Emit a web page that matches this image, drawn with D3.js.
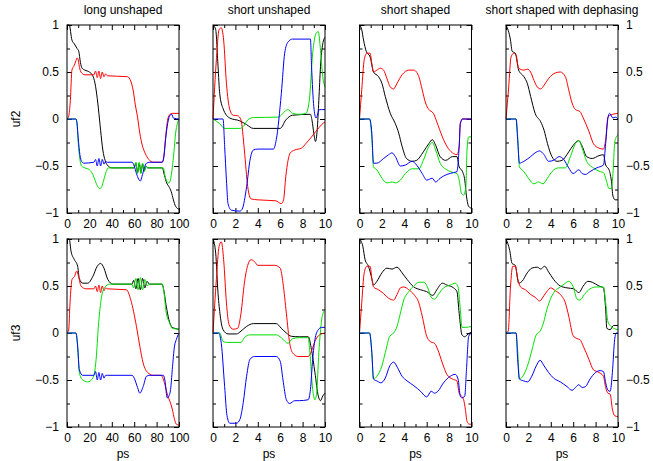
<!DOCTYPE html>
<html>
<head>
<meta charset="utf-8">
<script src="https://cdn.jsdelivr.net/npm/d3@7"></script>
<style>
  body { margin: 0; background: #fff; }
  svg text { font-family: "Liberation Sans", Arial, Helvetica, sans-serif; font-size: 12px; fill: #000; }
</style>
</head>
<body>
<script>

// panel titles, row labels, ticks
var titles = ["long unshaped", "short unshaped", "short shaped", "short shaped with dephasing"];
var rowLabels = ["uf2", "uf3"];
var yMajor = [-1, -0.5, 0, 0.5, 1];
var yMinor = [-0.75, -0.25, 0.25, 0.75];
var xMajorLong = [0, 20, 40, 60, 80, 100];
var xMinorLong = [10, 30, 50, 70, 90];
var xMajorShort = [0, 2, 4, 6, 8, 10];
var xMinorShort = [1, 3, 5, 7, 9];
var xLabel = "ps";
var colors = ["#000000", "#ff0000", "#00e000", "#0000ff"];

// ---- uf2, long unshaped
var lu2_black = [[0,1],[2,1],[4.4,0.84],[6.5,0.8],[9,0.75],[10.5,0.72],[12,0.6],[13.5,0.54],[16,0.52],[20,0.5],[23,0.46],[25,0.38],[27,0.22],[29,0.0],[30,-0.12],[32,-0.33],[34,-0.44],[36,-0.49],[40,-0.52],[60,-0.52],[61.5,-0.47],[63,-0.57],[64.5,-0.47],[66,-0.57],[67.5,-0.48],[69,-0.55],[70.5,-0.5],[72,-0.52],[85,-0.52],[87,-0.6],[89,-0.68],[91,-0.72],[93,-0.77],[95,-0.86],[97,-0.93],[100,-0.96]];
var lu2_red = [[0,0],[1.5,0.03],[3,0.2],[4.4,0.52],[6.5,0.57],[8,0.62],[9,0.65],[10,0.63],[11,0.56],[12,0.51],[14,0.48],[16,0.47],[24,0.47],[25.5,0.51],[27,0.44],[28.5,0.51],[30,0.43],[31.5,0.5],[33,0.45],[34.5,0.48],[36,0.46],[54,0.45],[57,0.4],[59,0.31],[61,0.15],[63,0.02],[65,-0.15],[67,-0.27],[70,-0.37],[73,-0.43],[77,-0.46],[85,-0.46],[86.5,-0.4],[88,-0.2],[90,0.0],[92,0.05],[94,0.06],[100,0.06]];
var lu2_green = [[0,0],[8,0],[9,-0.06],[10,-0.25],[11.5,-0.43],[13,-0.5],[16,-0.52],[20,-0.54],[23,-0.59],[25,-0.65],[27,-0.71],[29.5,-0.74],[31,-0.72],[33,-0.64],[35,-0.56],[37,-0.52],[60,-0.52],[61.5,-0.46],[63,-0.58],[64.5,-0.46],[66,-0.58],[67.5,-0.47],[69,-0.56],[70.5,-0.5],[72,-0.52],[86,-0.52],[87.5,-0.6],[89,-0.66],[91,-0.68],[92.5,-0.64],[94,-0.52],[95.5,-0.35],[97,-0.15],[98.5,-0.05],[100,0]];
var lu2_blue = [[0,0],[8,0],[9,-0.05],[10,-0.2],[11.5,-0.38],[13,-0.45],[15,-0.47],[24,-0.46],[25.5,-0.43],[27,-0.5],[28.5,-0.42],[30,-0.5],[31.5,-0.43],[33,-0.48],[34.5,-0.45],[36,-0.46],[58,-0.46],[60,-0.5],[62,-0.58],[64,-0.64],[65.5,-0.66],[67,-0.61],[69,-0.52],[71,-0.47],[74,-0.46],[85,-0.46],[86.5,-0.4],[88,-0.22],[90,-0.04],[92,0.04],[93.5,0.05],[95,0.01],[100,0]];

// ---- uf2, short unshaped
var su2_black = [[0,1],[0.24,0.95],[0.45,0.56],[0.6,0.27],[0.9,0.11],[1.5,0.01],[2.4,-0.02],[3,-0.06],[3.6,-0.1],[6,-0.1],[6.5,-0.01],[7.1,0.04],[8.7,0.05],[8.85,-0.02],[9.0,-0.15],[9.15,-0.24],[9.3,-0.12],[9.45,0.2],[9.6,0.56],[9.8,0.8],[10,0.87]];
var su2_red = [[0,0],[0.3,0.63],[0.54,0.95],[0.74,0.97],[0.95,0.84],[1.2,0.38],[1.5,0.1],[1.8,0.04],[2.2,0.035],[2.5,-0.01],[2.8,-0.33],[3.1,-0.72],[3.4,-0.85],[4,-0.86],[5.6,-0.87],[6.1,-0.9],[6.3,-0.86],[6.5,-0.61],[6.9,-0.36],[7.3,-0.33],[7.9,-0.31],[8.3,-0.26],[8.8,-0.19],[9.2,-0.13],[9.7,-0.06],[10,-0.03]];
var su2_green = [[0,0],[0.6,-0.05],[1.04,-0.1],[2.4,-0.1],[2.7,-0.08],[3.1,-0.01],[3.6,0.015],[5.8,0.02],[6,0.03],[6.4,0.08],[6.7,0.1],[7.1,0.06],[7.7,0.05],[8.3,0.06],[8.6,0.2],[8.9,0.7],[9.2,0.91],[9.4,0.93],[9.6,0.73],[9.8,0.45],[10,0.34]];
var su2_blue = [[0,0],[0.9,0],[1.04,-0.29],[1.2,-0.65],[1.34,-0.9],[1.64,-0.97],[2.4,-0.98],[2.6,-0.96],[3,-0.72],[3.3,-0.44],[3.6,-0.33],[4,-0.32],[5.4,-0.32],[5.65,-0.22],[6.1,0.27],[6.4,0.7],[6.7,0.82],[7.1,0.85],[8.7,0.85],[8.8,0.56],[9,0.13],[9.2,0.01],[9.5,0.1],[9.7,0.1],[10,0.1]];

// ---- uf2, short shaped
var ss2_black = [[0,1],[0.2,0.95],[0.36,0.84],[0.6,0.72],[0.95,0.66],[1.25,0.5],[1.7,0.45],[2,0.38],[2.3,0.24],[2.75,0.06],[3.2,-0.05],[3.5,-0.15],[3.8,-0.29],[4.2,-0.42],[4.7,-0.45],[5.1,-0.44],[5.7,-0.35],[6.2,-0.26],[6.5,-0.22],[6.8,-0.28],[7.2,-0.4],[7.7,-0.44],[8.3,-0.4],[8.7,-0.4],[8.9,-0.51],[9.2,-0.56],[9.4,-0.65],[9.55,-0.82],[9.75,-0.93],[10,-0.95]];
var ss2_red = [[0,0],[0.2,0.31],[0.42,0.63],[0.66,0.7],[0.95,0.7],[1.1,0.59],[1.25,0.5],[1.55,0.52],[1.85,0.54],[2.15,0.52],[2.45,0.43],[2.75,0.34],[3.05,0.32],[3.35,0.38],[3.8,0.47],[4.4,0.52],[4.85,0.52],[5.3,0.45],[5.6,0.31],[5.9,0.17],[6.2,0.1],[6.6,0.06],[6.9,-0.03],[7.4,-0.19],[7.8,-0.29],[8.3,-0.36],[8.7,-0.38],[8.9,-0.29],[9.0,-0.05],[9.2,0],[10,0]];
var ss2_green = [[0,0],[0.9,0],[1.1,-0.2],[1.25,-0.51],[1.55,-0.54],[2,-0.63],[2.45,-0.68],[2.9,-0.67],[3.2,-0.68],[3.65,-0.65],[4.1,-0.58],[4.7,-0.53],[5.3,-0.53],[5.7,-0.44],[6.2,-0.29],[6.5,-0.25],[6.8,-0.33],[7.2,-0.47],[7.8,-0.54],[8.4,-0.57],[8.7,-0.58],[8.9,-0.65],[9.1,-0.79],[9.3,-0.81],[9.5,-0.72],[9.6,-0.33],[9.75,-0.19],[10,-0.19]];
var ss2_blue = [[0,0],[0.9,0],[1.1,-0.15],[1.25,-0.47],[1.55,-0.47],[2.15,-0.42],[2.6,-0.38],[2.9,-0.36],[3.2,-0.4],[3.65,-0.5],[4.1,-0.49],[4.7,-0.45],[5.1,-0.49],[5.6,-0.58],[6,-0.65],[6.5,-0.63],[6.8,-0.67],[7.2,-0.63],[7.8,-0.59],[8.4,-0.57],[8.7,-0.56],[8.9,-0.29],[9.0,-0.05],[9.2,0],[10,0]];

// ---- uf2, short shaped with dephasing
var sd2_black = [[0,1],[0.4,0.84],[0.55,0.72],[0.83,0.7],[1.13,0.52],[1.6,0.45],[1.9,0.38],[2.2,0.24],[2.6,0.06],[3.1,-0.03],[3.4,-0.12],[3.7,-0.26],[4.1,-0.4],[4.55,-0.45],[5,-0.44],[5.6,-0.35],[6,-0.28],[6.5,-0.23],[6.8,-0.29],[7.2,-0.4],[7.7,-0.42],[8.3,-0.39],[8.7,-0.38],[8.9,-0.49],[9.2,-0.54],[9.4,-0.65],[9.55,-0.82],[9.75,-0.86],[10,-0.86]];
var sd2_red = [[0,0],[0.24,0.34],[0.45,0.66],[0.7,0.7],[0.9,0.68],[1.13,0.54],[1.6,0.52],[1.9,0.53],[2.2,0.5],[2.5,0.41],[2.8,0.34],[3.1,0.32],[3.4,0.36],[3.8,0.43],[4.4,0.49],[4.85,0.5],[5.3,0.45],[5.6,0.31],[5.9,0.17],[6.2,0.1],[6.6,0.08],[6.9,0.01],[7.4,-0.13],[7.8,-0.26],[8.3,-0.31],[8.7,-0.32],[8.9,-0.22],[9.1,0.02],[9.3,0.04],[10,0.06]];
var sd2_green = [[0,0],[0.9,0],[1.05,-0.2],[1.2,-0.51],[1.6,-0.56],[2,-0.63],[2.5,-0.69],[2.9,-0.67],[3.3,-0.69],[3.7,-0.63],[4.1,-0.56],[4.7,-0.52],[5.3,-0.52],[5.75,-0.4],[6.2,-0.26],[6.5,-0.23],[6.8,-0.31],[7.2,-0.45],[7.8,-0.52],[8.4,-0.56],[8.7,-0.57],[8.95,-0.65],[9.2,-0.74],[9.4,-0.74],[9.55,-0.58],[9.7,-0.26],[9.85,-0.19],[10,-0.17]];
var sd2_blue = [[0,0],[0.9,0],[1.04,-0.22],[1.2,-0.47],[1.6,-0.45],[2.2,-0.4],[2.6,-0.36],[3,-0.34],[3.4,-0.38],[3.8,-0.45],[4.25,-0.44],[4.75,-0.4],[5.15,-0.43],[5.6,-0.52],[6,-0.58],[6.5,-0.54],[6.8,-0.58],[7.1,-0.59],[7.5,-0.56],[8.1,-0.52],[8.7,-0.49],[8.9,-0.26],[9.1,0.01],[9.25,0.06],[9.55,0.01],[9.75,0.02],[10,0]];

// ---- uf3, long unshaped
var lu3_black = [[0,1],[2,1],[3.6,0.87],[6.6,0.78],[9.5,0.71],[11,0.58],[14,0.53],[18.5,0.53],[23,0.6],[27,0.71],[30,0.74],[33,0.69],[36.4,0.57],[41,0.52],[58,0.52],[59.5,0.56],[61.5,0.47],[63.5,0.58],[65.5,0.46],[67.5,0.58],[69.5,0.48],[71.5,0.55],[73.5,0.52],[85,0.52],[86,0.48],[88.7,0.28],[91,0.14],[94,0.06],[100,0.04]];
var lu3_red = [[0,0],[1.5,0.03],[2.7,0.32],[4.5,0.57],[6.6,0.6],[8.7,0.66],[10.4,0.6],[12.5,0.5],[17,0.47],[24,0.47],[25.5,0.5],[27,0.44],[28.5,0.51],[30,0.43],[31.5,0.5],[33,0.45],[34.5,0.48],[36,0.47],[53,0.46],[57,0.35],[62,0.07],[65,-0.14],[68,-0.32],[72,-0.42],[77,-0.45],[84,-0.45],[87,-0.53],[90,-0.67],[92,-0.73],[94,-0.81],[96,-0.92],[97.6,-0.97],[100,-0.98]];
var lu3_green = [[0,0],[8,0],[9.5,-0.14],[11,-0.42],[14,-0.5],[18.5,-0.52],[23,-0.48],[26,-0.28],[28,0.07],[30.4,0.35],[33.4,0.48],[38,0.52],[58,0.52],[59.5,0.48],[61.5,0.58],[63.5,0.46],[65.5,0.59],[67.5,0.46],[69.5,0.57],[71.5,0.5],[73.5,0.52],[85,0.52],[86,0.48],[88.7,0.21],[91.6,0.11],[94,0.05],[100,0.04]];
var lu3_blue = [[0,0],[8,0],[9.5,-0.14],[11,-0.39],[14,-0.45],[24,-0.45],[25.5,-0.41],[27,-0.5],[28.5,-0.42],[30,-0.5],[31.5,-0.43],[33,-0.48],[34.5,-0.45],[36,-0.45],[58,-0.45],[60,-0.48],[63,-0.58],[65,-0.64],[68,-0.57],[71,-0.46],[74,-0.45],[86,-0.45],[87.5,-0.51],[89.5,-0.69],[91,-0.67],[92.5,-0.6],[94,-0.39],[96,-0.14],[97.6,-0.07],[100,0]];

// ---- uf3, short unshaped
var su3_black = [[0,1],[0.24,0.85],[0.45,0.42],[0.65,0.18],[0.9,0.035],[1.34,-0.01],[2.1,-0.01],[2.5,0.02],[3,0.07],[3.6,0.1],[5.65,0.1],[6.1,0.05],[6.55,0],[7,-0.035],[7.7,-0.04],[8.5,-0.04],[8.8,-0.18],[9.1,-0.42],[9.4,-0.67],[9.6,-0.72],[9.8,-0.67],[10,-0.64]];
var su3_red = [[0,0],[0.3,0.57],[0.54,0.92],[0.74,0.97],[0.95,0.78],[1.2,0.32],[1.43,0.09],[1.8,0.04],[2.2,0.05],[2.5,0.21],[2.8,0.53],[3.1,0.72],[3.4,0.78],[3.7,0.76],[4,0.72],[5.5,0.72],[6,0.69],[6.25,0.53],[6.55,0.21],[6.85,-0.11],[7.1,-0.21],[7.6,-0.25],[8.5,-0.25],[8.8,-0.19],[9.1,-0.09],[9.4,-0.03],[10,0]];
var su3_green = [[0,0],[0.6,0],[0.9,-0.09],[1.2,-0.1],[2.5,-0.1],[2.8,-0.05],[3.3,-0.02],[5.65,-0.02],[6.1,-0.05],[6.7,-0.11],[7.1,-0.06],[7.7,-0.05],[8.5,-0.05],[8.65,-0.21],[8.9,-0.6],[9.1,-0.71],[9.25,-0.64],[9.45,-0.21],[9.7,0.14],[9.9,0.23],[10,0.25]];
var su3_blue = [[0,0],[0.5,0],[0.74,-0.11],[1.04,-0.57],[1.25,-0.88],[1.5,-0.96],[2.1,-0.96],[2.4,-0.92],[2.7,-0.74],[3,-0.46],[3.3,-0.28],[3.7,-0.25],[5.65,-0.25],[6,-0.3],[6.25,-0.5],[6.55,-0.71],[6.85,-0.75],[7.3,-0.72],[7.7,-0.72],[8.5,-0.71],[8.7,-0.6],[8.9,-0.28],[9.1,-0.07],[9.4,0.035],[9.7,0.06],[10,0.06]];

// ---- uf3, short shaped
var ss3_black = [[0,1],[0.3,0.92],[0.5,0.78],[0.8,0.71],[1.1,0.58],[1.25,0.51],[1.55,0.55],[2,0.64],[2.45,0.69],[2.9,0.68],[3.35,0.7],[3.8,0.64],[4.25,0.57],[4.85,0.49],[5.45,0.46],[6,0.44],[6.55,0.4],[6.9,0.46],[7.4,0.53],[7.8,0.51],[8.4,0.48],[8.7,0.44],[8.9,0.21],[9.15,-0.02],[9.4,-0.04],[9.6,-0.02],[10,0.01]];
var ss3_red = [[0,0],[0.2,0.32],[0.42,0.64],[0.66,0.71],[0.95,0.71],[1.1,0.58],[1.25,0.49],[1.7,0.46],[2.15,0.42],[2.6,0.37],[3.05,0.35],[3.35,0.41],[3.65,0.48],[3.95,0.49],[4.4,0.46],[4.85,0.41],[5.3,0.32],[5.6,0.18],[6,-0.035],[6.3,-0.09],[6.7,-0.11],[7,-0.18],[7.4,-0.32],[7.8,-0.44],[8.3,-0.49],[8.7,-0.51],[8.9,-0.64],[9.1,-0.67],[9.3,-0.71],[9.45,-0.81],[9.6,-0.94],[9.8,-0.97],[10,-0.97]];
var ss3_green = [[0,0],[0.9,0],[1.1,-0.2],[1.25,-0.49],[1.55,-0.46],[2,-0.35],[2.3,-0.21],[2.7,-0.035],[3.05,0],[3.35,0.07],[3.65,0.21],[3.95,0.35],[4.4,0.44],[4.85,0.5],[5.3,0.54],[5.75,0.54],[6.1,0.48],[6.4,0.38],[6.7,0.36],[7.1,0.42],[7.5,0.48],[8.1,0.51],[8.55,0.53],[8.8,0.49],[9,0.25],[9.15,0.06],[9.45,0.06],[10,0.07]];
var ss3_blue = [[0,0],[0.9,0],[1.1,-0.21],[1.25,-0.49],[1.55,-0.51],[1.9,-0.53],[2.3,-0.48],[2.7,-0.35],[3.05,-0.31],[3.4,-0.37],[3.8,-0.46],[4.25,-0.51],[4.85,-0.56],[5.45,-0.62],[6,-0.68],[6.4,-0.62],[6.7,-0.64],[7,-0.62],[7.5,-0.53],[8.1,-0.46],[8.55,-0.44],[8.8,-0.49],[9,-0.67],[9.15,-0.69],[9.4,-0.67],[9.55,-0.39],[9.75,-0.035],[10,0]];

// ---- uf3, short shaped with dephasing
var sd3_black = [[0,1],[0.33,0.88],[0.54,0.74],[0.83,0.72],[1.13,0.53],[1.43,0.55],[1.9,0.64],[2.3,0.69],[2.8,0.7],[3.1,0.68],[3.45,0.71],[3.8,0.65],[4.25,0.57],[4.85,0.5],[5.45,0.48],[6.05,0.47],[6.5,0.43],[6.9,0.5],[7.3,0.55],[7.7,0.54],[8.3,0.5],[8.7,0.48],[8.9,0.25],[9,0.05],[9.3,0.035],[9.6,0.08],[10,0.08]];
var sd3_red = [[0,0],[0.2,0.02],[0.4,0.49],[0.6,0.71],[0.83,0.71],[1.04,0.58],[1.3,0.49],[1.73,0.46],[2.2,0.41],[2.6,0.38],[3,0.34],[3.4,0.4],[3.7,0.45],[4,0.48],[4.4,0.45],[4.85,0.41],[5.3,0.32],[5.6,0.18],[6,-0.03],[6.35,-0.06],[6.6,-0.07],[6.9,-0.14],[7.4,-0.28],[7.8,-0.39],[8.3,-0.42],[8.7,-0.46],[8.9,-0.58],[9.1,-0.64],[9.3,-0.65],[9.5,-0.81],[9.7,-0.88],[10,-0.89]];
var sd3_green = [[0,0],[0.9,0],[1.05,-0.2],[1.2,-0.49],[1.6,-0.44],[2,-0.32],[2.3,-0.19],[2.7,-0.02],[3.05,0.02],[3.35,0.11],[3.65,0.25],[4,0.37],[4.4,0.45],[4.85,0.49],[5.3,0.53],[5.6,0.55],[6,0.49],[6.35,0.36],[6.6,0.35],[7,0.41],[7.5,0.47],[8.1,0.49],[8.7,0.49],[8.9,0.32],[9.1,0.12],[9.3,0.08],[9.6,0.05],[10,0.035]];
var sd3_blue = [[0,0],[0.9,0],[1.04,-0.28],[1.2,-0.49],[1.6,-0.51],[1.93,-0.52],[2.3,-0.46],[2.7,-0.35],[3.05,-0.29],[3.35,-0.34],[3.8,-0.42],[4.25,-0.48],[4.85,-0.52],[5.45,-0.57],[5.9,-0.61],[6.2,-0.58],[6.5,-0.55],[6.8,-0.58],[7.1,-0.57],[7.5,-0.49],[8,-0.42],[8.4,-0.4],[8.7,-0.41],[8.9,-0.53],[9.1,-0.61],[9.3,-0.62],[9.5,-0.42],[9.7,-0.07],[9.85,0],[10,0]];

var panels = [
  {row: 0, col: 0, xmax: 100, series: [lu2_black, lu2_red, lu2_green, lu2_blue]},
  {row: 0, col: 1, xmax: 10,  series: [su2_black, su2_red, su2_green, su2_blue]},
  {row: 0, col: 2, xmax: 10,  series: [ss2_black, ss2_red, ss2_green, ss2_blue]},
  {row: 0, col: 3, xmax: 10,  series: [sd2_black, sd2_red, sd2_green, sd2_blue]},
  {row: 1, col: 0, xmax: 100, series: [lu3_black, lu3_red, lu3_green, lu3_blue]},
  {row: 1, col: 1, xmax: 10,  series: [su3_black, su3_red, su3_green, su3_blue]},
  {row: 1, col: 2, xmax: 10,  series: [ss3_black, ss3_red, ss3_green, ss3_blue]},
  {row: 1, col: 3, xmax: 10,  series: [sd3_black, sd3_red, sd3_green, sd3_blue]}
];

// layout
var W = 653, H = 461;
var panelW = 112, panelH = 188;
var lefts = [67, 213, 359.5, 506];
var tops = [25, 239];
var majorLen = 5, minorLen = 3;

var svg = d3.select("body").append("svg")
    .attr("width", W)
    .attr("height", H);

function fmt(v) { return String(v).replace("-", "\u2212"); }

function styleAxis(g) {
  g.select(".domain").remove();
  g.attr("font-size", null).attr("font-family", null);
  g.selectAll(".tick line").attr("stroke", "#000").attr("stroke-width", 1);
}

panels.forEach(function(p) {
  var g = svg.append("g")
      .attr("transform", "translate(" + lefts[p.col] + "," + tops[p.row] + ")");

  var x = d3.scaleLinear().domain([0, p.xmax]).range([0, panelW]);
  var y = d3.scaleLinear().domain([-1, 1]).range([panelH, 0]);

  var xMaj = p.xmax == 100 ? xMajorLong : xMajorShort;
  var xMin = p.xmax == 100 ? xMinorLong : xMinorShort;

  // bottom axis with labels, major + minor
  g.append("g").attr("transform", "translate(0," + panelH + ")")
    .call(d3.axisBottom(x).tickValues(xMaj).tickSizeInner(-majorLen).tickSizeOuter(0).tickPadding(6).tickFormat(fmt))
    .call(styleAxis);
  g.append("g").attr("transform", "translate(0," + panelH + ")")
    .call(d3.axisBottom(x).tickValues(xMin).tickSizeInner(-minorLen).tickSizeOuter(0).tickFormat(""))
    .call(styleAxis);
  // top mirror
  g.append("g")
    .call(d3.axisTop(x).tickValues(xMaj).tickSizeInner(-majorLen).tickSizeOuter(0).tickFormat(""))
    .call(styleAxis);
  g.append("g")
    .call(d3.axisTop(x).tickValues(xMin).tickSizeInner(-minorLen).tickSizeOuter(0).tickFormat(""))
    .call(styleAxis);

  // left
  g.append("g")
    .call(d3.axisLeft(y).tickValues(yMajor).tickSizeInner(-majorLen).tickSizeOuter(0).tickPadding(8)
      .tickFormat(p.col == 0 ? fmt : ""))
    .call(styleAxis);
  g.append("g")
    .call(d3.axisLeft(y).tickValues(yMinor).tickSizeInner(-minorLen).tickSizeOuter(0).tickFormat(""))
    .call(styleAxis);
  // right
  g.append("g").attr("transform", "translate(" + panelW + ",0)")
    .call(d3.axisRight(y).tickValues(yMajor).tickSizeInner(-majorLen).tickSizeOuter(0).tickPadding(8)
      .tickFormat(p.col == 3 ? fmt : ""))
    .call(styleAxis);
  g.append("g").attr("transform", "translate(" + panelW + ",0)")
    .call(d3.axisRight(y).tickValues(yMinor).tickSizeInner(-minorLen).tickSizeOuter(0).tickFormat(""))
    .call(styleAxis);

  // curves: black, red, green, blue
  var line = d3.line()
      .x(function(d) { return x(d[0]); })
      .y(function(d) { return y(d[1]); })
      .curve(d3.curveMonotoneX);

  p.series.forEach(function(s, i) {
    g.append("path")
      .datum(s)
      .attr("fill", "none")
      .attr("stroke", colors[i])
      .attr("stroke-width", 1)
      .attr("d", line);
  });

  // frame
  g.append("rect")
    .attr("width", panelW)
    .attr("height", panelH)
    .attr("fill", "none")
    .attr("stroke", "#000")
    .attr("stroke-width", 1);

  if (p.row == 0) {
    g.append("text")
      .attr("x", panelW / 2)
      .attr("y", -11.5)
      .attr("text-anchor", "middle")
      .text(titles[p.col]);
  } else {
    g.append("text")
      .attr("x", panelW / 2)
      .attr("y", panelH + 30.5)
      .attr("text-anchor", "middle")
      .text(xLabel);
  }
});

// row labels
rowLabels.forEach(function(lab, i) {
  svg.append("text")
    .attr("transform", "translate(19.5," + (tops[i] + panelH / 2) + ") rotate(-90)")
    .attr("text-anchor", "middle")
    .text(lab);
});

</script>
</body>
</html>
